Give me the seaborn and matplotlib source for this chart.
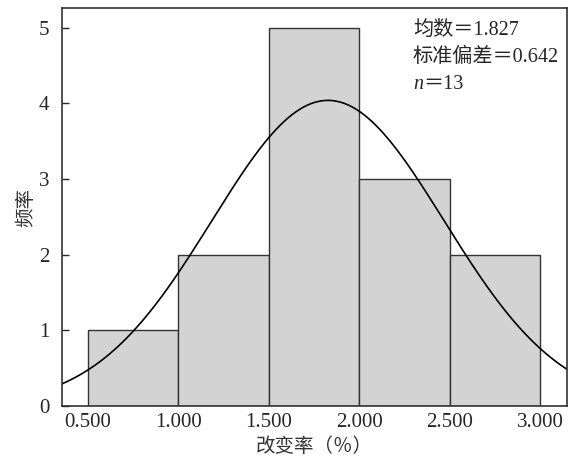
import numpy as np
import pandas as pd
import seaborn as sns
import matplotlib
matplotlib.use("Agg")
import matplotlib.pyplot as plt

# Data
bin_edges = [0.5, 1.0, 1.5, 2.0, 2.5, 3.0]
bin_centers = [0.75, 1.25, 1.75, 2.25, 2.75]
counts = [1, 2, 5, 3, 2]
mean_val = 1.827
sd_val = 0.642
n_val = 13
x_ticks = [0.5, 1.0, 1.5, 2.0, 2.5, 3.0]
x_tick_labels = ["0.500", "1.000", "1.500", "2.000", "2.500", "3.000"]
y_ticks = [0, 1, 2, 3, 4, 5]

sns.set_style("white")
fam = ["Liberation Serif", "Noto Sans CJK SC", "DejaVu Sans"]
plt.rcParams["font.family"] = fam

fig = plt.figure(figsize=(5.73, 4.65), dpi=100)
ax = fig.add_axes([62 / 573, 1 - 406 / 465, (567 - 62) / 573, (406 - 8) / 465])

df = pd.DataFrame({"x": bin_centers, "w": counts})
sns.histplot(data=df, x="x", weights="w", bins=bin_edges, ax=ax,
             color="#d3d3d3", alpha=1.0, edgecolor="#333333", linewidth=1.0)

xmin, xmax = 0.356, 3.149
xs = np.linspace(xmin, xmax, 400)
scale = n_val * (bin_edges[1] - bin_edges[0])
ys = scale / (sd_val * np.sqrt(2 * np.pi)) * np.exp(-0.5 * ((xs - mean_val) / sd_val) ** 2)
sns.lineplot(x=xs, y=ys, ax=ax, color="black", linewidth=1.2)

ax.set_xlim(xmin, xmax)
ax.set_ylim(0, 5.26)
ax.set_xticks(x_ticks)
ax.set_xticklabels(x_tick_labels)
ax.set_yticks(y_ticks)
ax.tick_params(axis="y", direction="in", length=5, width=1, labelsize=15, pad=9, left=True)
ax.tick_params(axis="x", length=0, labelsize=15, pad=5)
for s in ax.spines.values():
    s.set_color("#333333")
    s.set_linewidth(1.2)

ax.set_xlabel("改变率（％）", fontsize=14, family=["Noto Sans CJK SC"], labelpad=3,
              color="#333333")
ax.set_ylabel("频率", fontsize=14, family=["Noto Sans CJK SC"], labelpad=2,
              color="#333333")

tsize = 14.5
ax.text(0.695, 0.968, "均数＝1.827", transform=ax.transAxes, fontsize=tsize,
        va="top", ha="left", family=fam)
ax.text(0.695, 0.900, "标准偏差＝0.642", transform=ax.transAxes, fontsize=tsize,
        va="top", ha="left", family=fam)
tn = ax.text(0.695, 0.832, "n", transform=ax.transAxes, fontsize=tsize,
             va="top", ha="left", family=["Liberation Serif"], style="italic")
ax.annotate("＝13", xy=(1, 0), xycoords=tn, fontsize=tsize, va="bottom", ha="left",
            family=fam)

fig.savefig("out.png", dpi=100)
